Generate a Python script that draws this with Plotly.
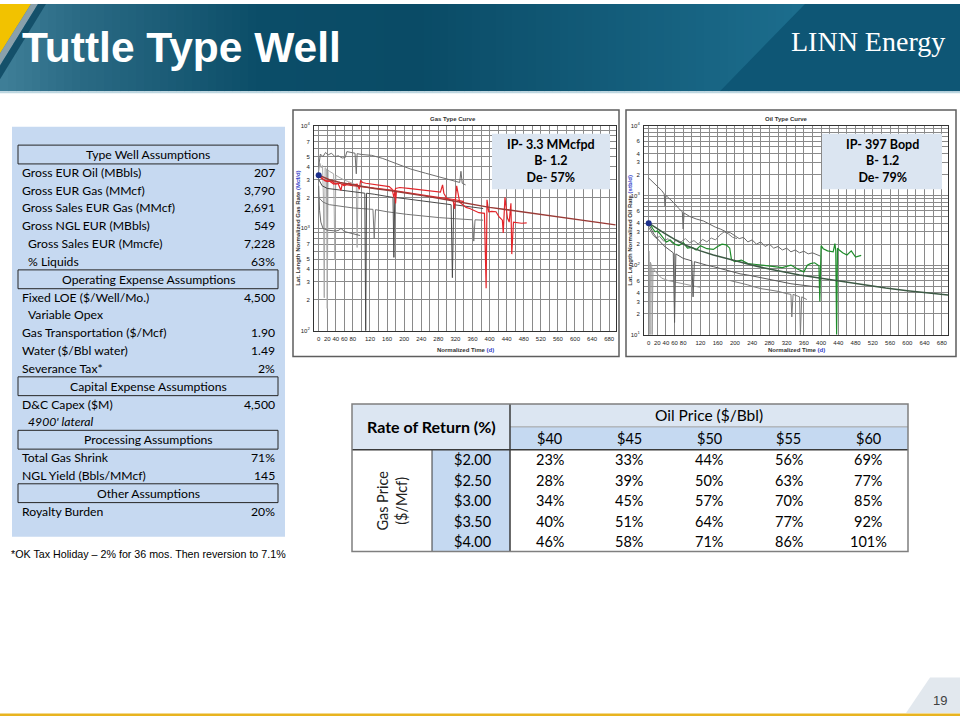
import plotly.graph_objects as go

# ---------------- DATA ----------------
ASSUMPTION_LABELS = ["Type Well Assumptions", "Gross EUR Oil (MBbls)", "Gross EUR Gas (MMcf)",
                     "Gross Sales EUR Gas (MMcf)", "Gross NGL EUR (MBbls)", "Gross Sales EUR (Mmcfe)",
                     "% Liquids", "Operating Expense Assumptions", "Fixed LOE ($/Well/Mo.)", "Variable Opex",
                     "Gas Transportation ($/Mcf)", "Water ($/Bbl water)", "Severance Tax*",
                     "Capital Expense Assumptions", "D&C Capex ($M)", "4900' lateral",
                     "Processing Assumptions", "Total Gas Shrink", "NGL Yield (Bbls/MMcf)",
                     "Other Assumptions", "Royalty Burden"]
ASSUMPTION_VALUES = ["", "207", "3,790", "2,691", "549", "7,228", "63%", "", "4,500", "", "1.90", "1.49",
                     "2%", "", "4,500", "", "", "71%", "145", "", "20%"]
ASSUMPTION_KIND = ["h", "n", "n", "n", "n", "i", "i", "h", "n", "i", "n", "n", "n", "h", "n", "it",
                   "h", "n", "n", "h", "n"]

OIL_PRICES = ["$40", "$45", "$50", "$55", "$60"]
GAS_PRICES = ["$2.00", "$2.50", "$3.00", "$3.50", "$4.00"]
ROR = [["23%", "33%", "44%", "56%", "69%"],
       ["28%", "39%", "50%", "63%", "77%"],
       ["34%", "45%", "57%", "70%", "85%"],
       ["40%", "51%", "64%", "77%", "92%"],
       ["46%", "58%", "71%", "86%", "101%"]]

GAS_BOX = "IP- 3.3 MMcfpd<br>B- 1.2<br>De- 57%"
OIL_BOX = "IP- 397 Bopd<br>B- 1.2<br>De- 79%"

# Gas type curve (Mcf/d vs days)
GAS_TYPE_T = [0, 10, 25, 50, 90, 130, 170, 210, 250, 300, 350, 400, 450, 500, 550, 600, 650, 695]
GAS_TYPE_Q = [3300, 3150, 2980, 2800, 2600, 2450, 2320, 2200, 2060, 1900, 1740, 1600, 1500, 1400, 1320, 1230, 1150, 1080]
GAS_RED1_T = [0, 5, 12, 20, 30, 40, 50, 60, 70, 80, 90, 95, 98, 103, 110, 125, 140, 155, 165, 172, 176, 180, 190,
              210, 230, 250, 270, 285, 290, 293, 300, 310, 315, 318, 323, 330, 338, 345, 355, 362, 375, 388, 392,
              394, 398, 405, 415, 422, 430, 432, 436, 442, 446, 450, 452, 456, 465, 475, 487]
GAS_RED1_Q = [3200, 3100, 2950, 2850, 2900, 2700, 2750, 2600, 2750, 2650, 2700, 2400, 2900, 2800, 2750, 2700, 2650,
              2600, 2550, 2400, 2000, 2450, 2500, 2450, 2400, 2350, 2300, 2250, 2650, 2200, 1950, 1900, 1850, 1550,
              2600, 1800, 1700, 1600, 1550, 1500, 1420, 1400, 260, 1900, 1450, 1460, 1450, 1300, 1200, 900, 2000,
              1250, 1150, 1750, 560, 1150, 1130, 1120, 1130]
GAS_RED2_T = [0, 8, 15, 25, 35, 45, 52, 55, 65, 80, 100, 120, 140, 160, 178, 180, 182, 200, 220, 240, 260, 280,
              300, 320, 340]
GAS_RED2_Q = [3250, 3050, 2900, 2900, 2700, 2750, 2350, 2700, 2650, 2600, 2550, 2480, 2420, 2380, 2330, 1750, 2320,
              2250, 2180, 2120, 2060, 2000, 1950, 1900, 1820]
GAS_G1_T = [0, 4, 10, 16, 22, 30, 38, 46, 55, 62, 66, 75, 85, 88, 90, 100, 124, 150, 180, 214, 250, 284, 310,
            323, 330, 333, 336, 344]
GAS_G1_Q = [4000, 5300, 5000, 5500, 5200, 5400, 5000, 5100, 4850, 4900, 5600, 5500, 5400, 3400, 5350, 5250, 5150,
            4800, 4300, 3800, 3450, 3150, 2950, 2850, 2800, 3600, 2750, 2650]
GAS_G2_T = [0, 3, 6, 9, 11, 13, 15, 18, 20, 22, 25, 30, 35, 38, 40, 45, 50, 60, 70, 80, 88, 90, 92, 97]
GAS_G2_Q = [3600, 4300, 3900, 4100, 2000, 210, 3900, 3800, 165, 3700, 3600, 3500, 3400, 490, 3300, 3200, 3100,
            2950, 2850, 2750, 2650, 650, 2600, 2550]
GAS_G3_T = [0, 8, 20, 35, 50, 70, 90, 108, 110, 112, 130, 160, 174, 176, 178, 200, 240, 280, 310, 313, 316, 340,
            360, 385]
GAS_G3_Q = [3000, 2600, 2450, 2400, 2350, 2300, 2250, 2200, 100, 2200, 2150, 2050, 2000, 520, 2000, 1950, 1850,
            1750, 1700, 330, 1700, 1650, 1600, 1560]
GAS_G4_T = [0, 10, 25, 49, 80, 127, 130, 133, 160, 205, 240, 283, 320, 346, 360, 363, 366, 385]
GAS_G4_Q = [2000, 1800, 1700, 1640, 1580, 1530, 800, 1520, 1450, 1370, 1320, 1270, 1240, 1220, 1210, 750, 1210, 1200]
GAS_G5_T = [0, 2, 5, 10, 20, 30, 40, 48, 52, 60, 70, 80, 90, 97]
GAS_G5_Q = [2600, 1500, 1150, 1000, 960, 950, 940, 960, 1000, 930, 910, 890, 870, 850]

# Oil type curve (stb/d vs days)
OIL_TYPE_T = [0, 5, 11, 20, 35, 50, 70, 90, 120, 150, 200, 250, 300, 350, 400, 450, 500, 550, 600, 650, 696]
OIL_TYPE_Q = [400, 385, 365, 335, 290, 255, 215, 188, 160, 140, 115, 96, 83, 72, 65, 58, 52, 47, 43, 40, 37]
OIL_GREEN_T = [0, 5, 10, 15, 20, 26, 33, 41, 50, 60, 70, 80, 90, 100, 110, 120, 135, 150, 160, 170, 180, 188, 192,
               200, 215, 230, 250, 270, 290, 310, 330, 345, 360, 368, 375, 385, 395, 397, 400, 405, 415, 428, 432,
               434, 436, 438, 442, 450, 460, 470, 480, 493]
OIL_GREEN_Q = [410, 360, 330, 300, 310, 282, 250, 214, 230, 200, 190, 210, 175, 180, 165, 190, 172, 168, 185, 200,
               195, 175, 120, 112, 118, 105, 102, 98, 95, 92, 100, 88, 80, 100, 105, 108, 98, 30, 190, 172, 160,
               155, 203, 160, 10, 175, 165, 150, 140, 160, 130, 138]
OIL_G1_T = [0, 10, 20, 30, 36, 38, 40, 48, 57, 70, 78, 80, 82, 95, 110, 127, 140, 155, 166, 180, 190, 200, 210,
            220, 230, 240, 250, 260, 270, 280, 290, 300, 310, 320, 330, 340, 350, 360, 370, 380, 390, 398]
OIL_G1_Q = [1780, 1550, 1380, 1180, 1050, 700, 1000, 900, 800, 650, 580, 330, 560, 500, 460, 430, 390, 350, 330,
            300, 290, 260, 240, 250, 215, 230, 200, 215, 185, 200, 175, 185, 165, 175, 155, 165, 150, 158, 145,
            150, 140, 135]
OIL_G2_T = [0, 5, 10, 18, 25, 35, 45, 55, 65, 75, 85, 95, 105, 115, 125, 135, 145, 155, 165, 175, 185, 195, 205]
OIL_G2_Q = [350, 300, 270, 240, 260, 220, 240, 205, 230, 215, 240, 210, 225, 200, 235, 215, 245, 230, 270, 300,
            280, 250, 240]
OIL_G3_T = [0, 5, 12, 20, 35, 57, 60, 63, 80, 100, 103, 106, 120, 134, 150, 170, 190, 212, 230, 250, 270, 289,
            310, 330, 351, 370, 385, 398]
OIL_G3_Q = [386, 330, 280, 240, 190, 150, 15, 145, 125, 115, 35, 112, 105, 100, 95, 88, 82, 75, 72, 68, 64, 60,
            57, 54, 52, 51, 49, 48]
OIL_G4A_T = [1, 3, 4, 7, 8, 10, 20, 30, 45, 60, 75, 90, 105, 119]
OIL_G4A_Q = [160, 10, 110, 95, 10, 90, 75, 65, 60, 57, 54, 52, 50, 48]
OIL_G4B_T = [189, 200, 215, 230, 243, 260, 280, 300, 320, 330, 332, 335, 345, 350, 352, 355, 367]
OIL_G4B_Q = [60, 58, 55, 52, 49, 46, 44, 42, 39, 38, 18, 38, 36, 35, 10, 35, 32]

X_LABELED = [0, 20, 40, 60, 80, 120, 160, 200, 240, 280, 320, 360, 400, 440, 480, 520, 560, 600, 640, 680]
GAS_Y_LABELED_MANTISSA = [2, 3, 4, 5, 7]
OIL_Y_LABELED_MANTISSA = [2, 3, 4, 6]

# ---------------- HELPERS ----------------
W, H = 960, 720
def px(x): return x / W
def py(y): return 1 - y / H

shapes, annotations = [], []
CAL = "Lato, Carlito, Calibri, sans-serif"
ARI = "Liberation Sans, Arial, sans-serif"

def rect(x0, y0, x1, y1, fill=None, line=None, lw=0, layer="below"):
    shapes.append(dict(type="rect", xref="paper", yref="paper", x0=px(x0), x1=px(x1), y0=py(y1), y1=py(y0),
                       fillcolor=fill or "rgba(0,0,0,0)",
                       line=dict(color=line or "rgba(0,0,0,0)", width=lw), layer=layer))

def poly(points, fill, layer="below"):
    path = "M " + " L ".join(f"{px(x):.5f},{py(y):.5f}" for x, y in points) + " Z"
    shapes.append(dict(type="path", xref="paper", yref="paper", path=path, fillcolor=fill,
                       line=dict(width=0), layer=layer))

def seg(x0, y0, x1, y1, color, w, layer="above"):
    shapes.append(dict(type="line", xref="paper", yref="paper", x0=px(x0), x1=px(x1), y0=py(y0), y1=py(y1),
                       line=dict(color=color, width=w), layer=layer))

def text(x, y, s, size, color="#000", family=CAL, xa="left", ya="middle", angle=0):
    annotations.append(dict(xref="paper", yref="paper", x=px(x), y=py(y), text=s, showarrow=False,
                            font=dict(size=size, color=color, family=family), xanchor=xa, yanchor=ya,
                            textangle=angle, borderpad=0))

def hex2rgb(h): return tuple(int(h[i:i + 2], 16) for i in (1, 3, 5))

def grad(stops, x):
    for (xa, ca), (xb, cb) in zip(stops, stops[1:]):
        if xa <= x <= xb:
            t = (x - xa) / (xb - xa)
            a, b = hex2rgb(ca), hex2rgb(cb)
            return "rgb(%d,%d,%d)" % tuple(round(a[i] + (b[i] - a[i]) * t) for i in range(3))
    return stops[-1][1]

# ---------------- HEADER ----------------
HDR = 88
stops = [(0, "#3f7f98"), (80, "#2a6a84"), (260, "#0b4d68"), (420, "#0a4b66"), (800, "#1c6d8d"), (960, "#1c6d8d")]
for x in range(0, 960, 8):
    rect(x, 0, x + 8.6, HDR, fill=grad(stops, x + 4))
poly([(805, 0), (960, 0), (960, HDR), (720, HDR)], "#0e5675")
poly([(0, 0), (31, 0), (0, 50)], "#f2c200")
poly([(31, 0), (38, 0), (0, 62), (0, 50)], "#8aa0ab")
poly([(38, 0), (46, 0), (0, 76), (0, 62)], "#14506a")
rect(0, HDR, 960, HDR + 2, fill="#bcd6e0")
text(21, 44, "<b>Tuttle Type Well</b>", 42.5, "#ffffff", ARI)
text(946, 38, "LINN Energy", 28, "#ffffff", "Liberation Serif, Times New Roman, serif", xa="right")

# bottom decorations
poly([(930, 680), (960, 680), (960, 716), (906, 716)], "#e2e8ee")
rect(0, 716.5, 960, 719, fill="#e8b420")
text(940, 703, "19", 13, "#404040", ARI, xa="center")

# ---------------- ASSUMPTION PANEL ----------------
rect(12, 124, 285, 538, fill="#c6d9f1")
for i, (lab, val, kind) in enumerate(zip(ASSUMPTION_LABELS, ASSUMPTION_VALUES, ASSUMPTION_KIND)):
    yc = 152 + 18 * i
    if kind == "h":
        rect(18, yc - 9.5, 278, yc + 9.5, line="#262626", lw=1)
        text(148, yc, lab, 12.2, "#000", CAL, xa="center")
    else:
        xl = 26.5 if kind in ("i", "it") else 20.5
        s = f"<i>{lab}</i>" if kind == "it" else lab
        text(xl, yc, s, 12.2, "#000", CAL)
        if val:
            text(276, yc, val, 12.2, "#000", CAL, xa="right")
text(10, 555, "*OK Tax Holiday \u2013 2% for 36 mos. Then reversion to 7.1%", 10.7, "#000", ARI)

# ---------------- RATE OF RETURN TABLE ----------------
TL, TB1, TB2, TR = 352, 432, 510, 908
TT, R1, R2, TBOT = 404, 427, 450, 553
rect(TL, TT, TB2, R2, fill="#dce6f2")
rect(TB2, TT, TR, R1, fill="#dce6f2")
rect(TB2, R1, TR, R2, fill="#c5d9f1")
rect(TB1, R2, TB2, TBOT, fill="#c5d9f1")
seg(TB2, R1, TR, R1, "#a0a0a0", 1)
seg(TL, R2, TR, R2, "#3a3a3a", 1.5)
seg(TB2, TT, TB2, TBOT, "#3a3a3a", 1.5)
seg(TB1, R2, TB1, TBOT, "#3a3a3a", 1)
rect(TL, TT, TR, TBOT, line="#7f7f7f", lw=1.5, layer="above")
text((TL + TB2) / 2, (TT + R2) / 2, "<b>Rate of Return (%)</b>", 16, "#000", CAL, xa="center")
text((TB2 + TR) / 2, (TT + R1) / 2, "Oil Price ($/Bbl)", 15.5, "#000", CAL, xa="center")
cw = (TR - TB2) / len(OIL_PRICES)
rh = (TBOT - R2) / len(GAS_PRICES)
for j, op in enumerate(OIL_PRICES):
    text(TB2 + cw * (j + 0.5), (R1 + R2) / 2, op, 14.5, "#000", CAL, xa="center")
for i, gp in enumerate(GAS_PRICES):
    yc = R2 + rh * (i + 0.5)
    text((TB1 + TB2) / 2 + 1, yc, gp, 14.5, "#000", CAL, xa="center")
    for j in range(len(OIL_PRICES)):
        text(TB2 + cw * (j + 0.5), yc, ROR[i][j], 14.5, "#000", CAL, xa="center")
text((TL + TB1) / 2, (R2 + TBOT) / 2, "Gas Price<br>($/Mcf)", 14.5, "#222", CAL, xa="center", angle=-90)

# ---------------- TYPE CURVE CHARTS ----------------
fig = go.Figure()

def add(x, y, color, w=1, ax="x", ay="y"):
    fig.add_trace(go.Scatter(x=x, y=y, mode="lines", line=dict(color=color, width=w), xaxis=ax, yaxis=ay,
                             hoverinfo="skip", showlegend=False))

add(GAS_G2_T, GAS_G2_Q, "#a9a9a9")
add(GAS_G1_T, GAS_G1_Q, "#6e6e6e")
add(GAS_G5_T, GAS_G5_Q, "#6a6a6a")
add(GAS_G4_T, GAS_G4_Q, "#767676")
add(GAS_G3_T, GAS_G3_Q, "#4a4a4a")
add(GAS_RED2_T, GAS_RED2_Q, "#e3262b", 1.2)
add(GAS_RED1_T, GAS_RED1_Q, "#e3262b", 1.2)
add(GAS_TYPE_T, GAS_TYPE_Q, "#9a3b37", 1.5)
fig.add_trace(go.Scatter(x=GAS_TYPE_T[:1], y=GAS_TYPE_Q[:1], mode="markers", xaxis="x", yaxis="y",
                         marker=dict(color="#1d2f8c", size=6), hoverinfo="skip", showlegend=False))

add(OIL_G4A_T, OIL_G4A_Q, "#9a9a9a", 1, "x2", "y2")
add(OIL_G4B_T, OIL_G4B_Q, "#7a7a7a", 1, "x2", "y2")
add(OIL_G2_T, OIL_G2_Q, "#7d7d7d", 1, "x2", "y2")
add(OIL_G1_T, OIL_G1_Q, "#686868", 1, "x2", "y2")
add(OIL_G3_T, OIL_G3_Q, "#5a5a5a", 1, "x2", "y2")
add(OIL_GREEN_T, OIL_GREEN_Q, "#1e8c2a", 1.2, "x2", "y2")
add(OIL_TYPE_T, OIL_TYPE_Q, "#3d5a45", 1.5, "x2", "y2")
fig.add_trace(go.Scatter(x=OIL_TYPE_T[:1], y=OIL_TYPE_Q[:1], mode="markers", xaxis="x2", yaxis="y2",
                         marker=dict(color="#1d2f8c", size=6), hoverinfo="skip", showlegend=False))

x_minor = [v for v in range(0, 700, 20) if v not in X_LABELED]

def ylog_ticks(e0, e1, labeled):
    vals, txt, minor = [], [], []
    for e in range(e0, e1):
        for m in range(1, 10):
            v = m * 10 ** e
            if m == 1:
                vals.append(v); txt.append(f"10<sup>{e}</sup>")
            elif m in labeled:
                vals.append(v); txt.append(str(m))
            else:
                minor.append(v)
    vals.append(10 ** e1)
    txt.append(f"10<sup>{e1}</sup>")
    return vals, txt, minor

gyv, gyt, gym = ylog_ticks(2, 4, GAS_Y_LABELED_MANTISSA)
oyv, oyt, oym = ylog_ticks(1, 4, OIL_Y_LABELED_MANTISSA)

GRID = "#8a8a8a"
tickfont = dict(size=6, color="#222", family=ARI)
common_x = dict(tickmode="array", tickvals=X_LABELED, ticktext=[str(v) for v in X_LABELED], tickangle=0,
                showgrid=True, gridcolor=GRID, gridwidth=1,
                minor=dict(tickmode="array", tickvals=x_minor, showgrid=True, gridcolor=GRID, gridwidth=1, ticks=""),
                showline=True, mirror=True, linecolor="#333", linewidth=1, tickfont=tickfont, ticks="",
                ticklabelstandoff=2, zeroline=False, fixedrange=True)
common_y = dict(type="log", tickmode="array", showgrid=True, gridcolor=GRID, gridwidth=1,
                showline=True, mirror=True, linecolor="#333", linewidth=1, tickfont=tickfont, ticks="",
                ticklabelstandoff=2, zeroline=False, fixedrange=True)

# chart frames
rect(293, 107, 619, 356, fill="#ffffff", line="#5e5e5e", lw=1.5)
rect(626, 107, 956, 356, fill="#ffffff", line="#5e5e5e", lw=1.5)
# info boxes
rect(492, 131, 610, 187, fill="#dbe5f1", layer="above")
rect(822, 131, 942, 187, fill="#dbe5f1", layer="above")
text(551, 159, f"<b>{GAS_BOX}</b>", 12.5, "#000", CAL, xa="center")
text(882, 159, f"<b>{OIL_BOX}</b>", 12.5, "#000", CAL, xa="center")
# chart titles and axis titles
text(453, 116, "<b>Gas Type Curve</b>", 6, "#333", ARI, xa="center")
text(786, 116, "<b>Oil Type Curve</b>", 6, "#333", ARI, xa="center")
text(465, 349, "<b>Normalized Time <span style='color:#3340c8'>(d)</span></b>", 6, "#333", ARI, xa="center")
text(796, 349, "<b>Normalized Time <span style='color:#3340c8'>(d)</span></b>", 6, "#333", ARI, xa="center")
text(298, 227, "<b>Lat. Length Normalized Gas Rate <span style='color:#3340c8'>(Mcf/d)</span></b>", 6, "#333",
     ARI, xa="center", angle=-90)
text(630, 229, "<b>Lat. Length Normalized Oil Rate <span style='color:#3340c8'>(stb/d)</span></b>", 6, "#333",
     ARI, xa="center", angle=-90)

fig.update_layout(
    width=W, height=H, margin=dict(l=0, r=0, t=0, b=0),
    paper_bgcolor="#ffffff", plot_bgcolor="#ffffff", showlegend=False,
    xaxis=dict(domain=[px(314), px(616)], range=[-11, 696], anchor="y", **common_x),
    yaxis=dict(domain=[py(330), py(123)], range=[2, 4], anchor="x", tickvals=gyv, ticktext=gyt,
               minor=dict(tickmode="array", tickvals=gym, showgrid=True, gridcolor=GRID, gridwidth=1, ticks=""),
               **common_y),
    xaxis2=dict(domain=[px(644), px(948)], range=[-10.9, 694.4], anchor="y2", **common_x),
    yaxis2=dict(domain=[py(334), py(123)], range=[1, 4], anchor="x2", tickvals=oyv, ticktext=oyt,
                minor=dict(tickmode="array", tickvals=oym, showgrid=True, gridcolor=GRID, gridwidth=1, ticks=""),
                **common_y),
    shapes=shapes, annotations=annotations,
)

fig.write_html("out.html", config={"displayModeBar": False},
               post_script="document.body.style.margin='0';document.body.style.overflow='hidden';")
